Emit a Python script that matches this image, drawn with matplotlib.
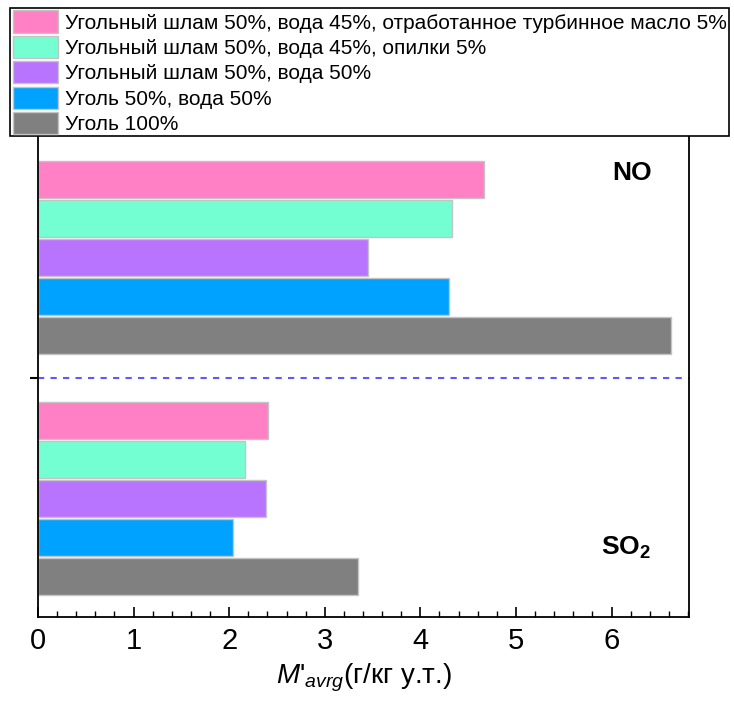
import matplotlib
matplotlib.use("Agg")
import matplotlib.pyplot as plt
from matplotlib.patches import Patch
from matplotlib.ticker import MultipleLocator

plt.rcParams['font.family'] = ['Liberation Sans', 'DejaVu Sans']
plt.rcParams['mathtext.fontset'] = 'custom'
plt.rcParams['mathtext.it'] = 'Liberation Sans:italic'
plt.rcParams['mathtext.rm'] = 'Liberation Sans'
plt.rcParams['mathtext.bf'] = 'Liberation Sans:bold'

# series, top to bottom as in the legend
labels = [
    'Угольный шлам 50%, вода 45%, отработанное турбинное масло 5%',
    'Угольный шлам 50%, вода 45%, опилки 5%',
    'Угольный шлам 50%, вода 50%',
    'Уголь 50%, вода 50%',
    'Уголь 100%',
]
colors = ['#FF80C4', '#74FFD2', '#B974FF', '#00A2FF', '#808080']

no_values = [4.67, 4.33, 3.45, 4.30, 6.62]
so2_values = [2.41, 2.17, 2.39, 2.04, 3.35]

# bar slots: SO2 group at the bottom, NO group above
so2_pos = [4, 3, 2, 1, 0]
no_offset = 6.17
no_pos = [p + no_offset for p in so2_pos]
separator = 5.08

fig = plt.figure(figsize=(7.34, 7.08), dpi=100)
ax = fig.add_axes([38 / 734, 1 - 617 / 708, 651 / 734, 482 / 708])

for v, p, c in zip(no_values, no_pos, colors):
    ax.barh(p, v, height=0.95, color=c, edgecolor='#c4c4c4', linewidth=1)
for v, p, c in zip(so2_values, so2_pos, colors):
    ax.barh(p, v, height=0.95, color=c, edgecolor='#c4c4c4', linewidth=1)

ax.axhline(separator, color='#5a5aff', linestyle=(0, (3, 3)), linewidth=1.5)

ax.set_xlim(0, 6.81)
ax.set_ylim(-1.05, 11.31)

ax.xaxis.set_major_locator(MultipleLocator(1))
ax.xaxis.set_minor_locator(MultipleLocator(0.2))
ax.tick_params(axis='x', which='major', direction='in', length=7, width=1.2,
               labelsize=21, pad=7)
ax.tick_params(axis='x', which='minor', direction='in', length=4, width=1)
ax.set_yticks([separator])
ax.set_yticklabels([''])
ax.tick_params(axis='y', direction='out', length=6, width=1.5)

for s in ax.spines.values():
    s.set_linewidth(1.3)
ax.spines['top'].set_visible(False)  # sits under the legend box

ax.text(6.21, 10.33, 'NO', fontsize=19, fontweight='bold', ha='center', va='center')
ax.text(6.15, 0.72, r'SO$_\mathbf{2}$', fontsize=19, fontweight='bold',
        ha='center', va='center')

ax.set_xlabel(r"$M$'$_{avrg}$(г/кг у.т.)", fontsize=20, labelpad=5)

handles = [Patch(facecolor=c, edgecolor='#c4c4c4', linewidth=1) for c in colors]
leg = fig.legend(handles, labels, loc='upper left',
                 bbox_to_anchor=(10 / 734, 1 - 8 / 708),
                 fontsize=15, frameon=True, fancybox=False, framealpha=1,
                 handlelength=2.2, handleheight=1.25, handletextpad=0.3,
                 labelspacing=0.16, borderpad=0.12, borderaxespad=0)
leg.get_frame().set_edgecolor('black')
leg.get_frame().set_linewidth(1.2)

fig.savefig('out.png', dpi=100)
